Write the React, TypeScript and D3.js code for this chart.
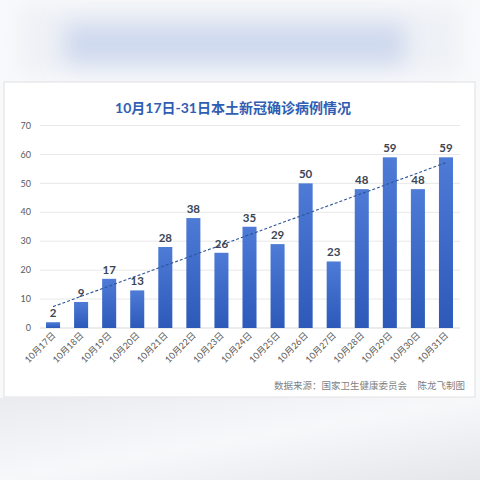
import React from 'react';
import * as d3 from 'd3';

const dates = ['10月17日', '10月18日', '10月19日', '10月20日', '10月21日', '10月22日', '10月23日', '10月24日', '10月25日', '10月26日', '10月27日', '10月28日', '10月29日', '10月30日', '10月31日'];
const cases = [2, 9, 17, 13, 28, 38, 26, 35, 29, 50, 23, 48, 59, 48, 59];
const yTicks = [0, 10, 20, 30, 40, 50, 60, 70];

const title = '10月17日-31日本土新冠确诊病例情况';
const source = '数据来源：国家卫生健康委员会';
const author = '陈龙飞制图';

const FONT = "Lato, 'Noto Sans CJK SC', sans-serif";

const App: React.FC = () => {
  const W = 480;
  const H = 480;

  const x = d3.scaleBand<string>().domain(dates).range([39, 460]).paddingInner(0.5).paddingOuter(0.25);
  const y = d3.scaleLinear().domain([0, 70]).range([328, 125.5]);

  // linear trend line (least squares) over the series
  const n = cases.length;
  const mx = (n + 1) / 2;
  const my = d3.mean(cases) as number;
  let sxy = 0;
  let sxx = 0;
  cases.forEach((v, i) => {
    sxy += (i + 1 - mx) * (v - my);
    sxx += (i + 1 - mx) * (i + 1 - mx);
  });
  const slope = sxy / sxx;
  const trend = (i: number) => my + slope * (i + 1 - mx);
  const trendLine = d3.line<number>()
    .x(i => (x(dates[i]) as number) + x.bandwidth() / 2)
    .y(i => y(trend(i)));

  return (
    <div style={{ position: 'absolute', left: 0, top: 0 }}>
      <svg width={W} height={H} style={{ display: 'block' }}>
        <defs>
          <filter id="blur" x="-50%" y="-100%" width="200%" height="300%">
            <feGaussianBlur stdDeviation="11" />
          </filter>
          <linearGradient id="barGrad" x1="0" y1="0" x2="0" y2="1">
            <stop offset="0%" stopColor="#4d7bd6" />
            <stop offset="100%" stopColor="#2d59b9" />
          </linearGradient>
          <linearGradient id="bottomGrad" x1="0" y1="0" x2="1" y2="1">
            <stop offset="0%" stopColor="#e9ebef" />
            <stop offset="50%" stopColor="#f7f8fa" />
            <stop offset="100%" stopColor="#e4e6ea" />
          </linearGradient>
        </defs>

        {/* photographed background */}
        <rect x={0} y={0} width={W} height={H} fill="#f8f9fb" />
        <rect x={20} y={5} width={440} height={70} fill="#eef1f6" filter="url(#blur)" />
        <rect x={65} y={24} width={340} height={40} fill="#cfd9ee" filter="url(#blur)" />
        <rect x={0} y={398} width={W} height={82} fill="url(#bottomGrad)" />

        {/* panel */}
        <rect x={4} y={82} width={471} height={315} fill="#ffffff" stroke="#e0e0e0" strokeWidth={1} />

        <text x={233} y={113} textAnchor="middle" fontFamily={FONT} fontSize={14} fontWeight="bold" fill="#2f5eb3">
          {title}
        </text>

        {/* grid + y axis */}
        {yTicks.map(t => (
          <g key={t}>
            <line x1={40} x2={460} y1={y(t)} y2={y(t)} stroke={t === 0 ? '#d9d9d9' : '#e8e8e8'} strokeWidth={1} />
            <text x={31} y={y(t)} dy="0.35em" textAnchor="end" fontFamily={FONT} fontSize={9} fill="#595959">
              {t}
            </text>
          </g>
        ))}

        {/* bars */}
        {cases.map((v, i) => (
          <rect
            key={dates[i]}
            x={x(dates[i])}
            y={y(v)}
            width={x.bandwidth()}
            height={y(0) - y(v)}
            fill="url(#barGrad)"
          />
        ))}

        {/* trend */}
        <path d={trendLine(d3.range(n)) as string} fill="none" stroke="#2f5597" strokeWidth={1.1} strokeDasharray="3,2" />

        {/* value labels */}
        {cases.map((v, i) => (
          <text
            key={'v' + i}
            x={(x(dates[i]) as number) + x.bandwidth() / 2}
            y={y(v) - 5}
            textAnchor="middle"
            fontFamily={FONT}
            fontSize={11.5}
            fontWeight="bold"
            fill="#3b4556"
          >
            {v}
          </text>
        ))}

        {/* x labels */}
        {dates.map(d => {
          const cx = (x(d) as number) + x.bandwidth() / 2 + 3;
          const cy = 336;
          return (
            <text
              key={d}
              transform={`translate(${cx},${cy}) rotate(-45)`}
              textAnchor="end"
              fontFamily={FONT}
              fontSize={9}
              fill="#595959"
            >
              {d}
            </text>
          );
        })}

        {/* footer */}
        <text x={274} y={389} fontFamily={FONT} fontSize={9.5} fill="#7f7f7f">{source}</text>
        <text x={465} y={389} textAnchor="end" fontFamily={FONT} fontSize={9.5} fill="#7f7f7f">{author}</text>
      </svg>
    </div>
  );
};

export default App;
